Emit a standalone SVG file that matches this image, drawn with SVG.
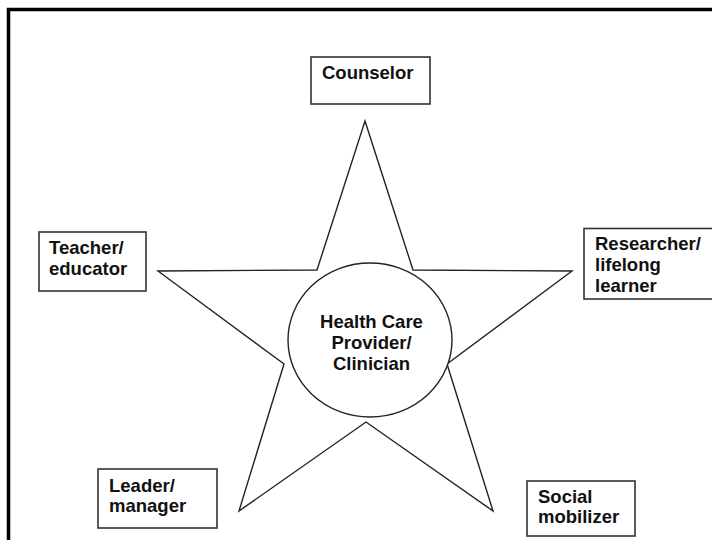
<svg xmlns="http://www.w3.org/2000/svg" width="712" height="540" viewBox="0 0 712 540">
<style>
.frame{fill:none;stroke:#000;stroke-width:3.5}
.box{fill:#fff;stroke:#333;stroke-width:1.6}
.star{fill:#fff;stroke:#222;stroke-width:1.4;stroke-linejoin:miter}
.lbl{font-family:"Liberation Sans",Arial,sans-serif;font-weight:bold;font-size:18.5px;fill:#111}
.mid{text-anchor:middle}
</style>
<rect width="712" height="540" fill="#fff"/>
<rect class="frame" x="8.5" y="9.5" width="720" height="545"/>
<g id="connectors">
<polygon id="star" class="star" points="365,121 413,270 572,271 447,364 493,511 366,422 239,511 284,364 158,271 317,270"/>
</g>
<g id="center">
<ellipse class="star" cx="370" cy="340" rx="82" ry="77"/>
<text class="lbl mid" x="371.5" y="328">Health Care</text>
<text class="lbl mid" x="371.5" y="349">Provider/</text>
<text class="lbl mid" x="371.5" y="370">Clinician</text>
</g>
<g id="counselor">
<rect class="box" x="311" y="57" width="119" height="47"/>
<text class="lbl" x="322" y="79">Counselor</text>
</g>
<g id="teacher">
<rect class="box" x="39" y="232" width="107" height="59"/>
<text class="lbl" x="49" y="254">Teacher/</text>
<text class="lbl" x="49" y="274.5">educator</text>
</g>
<g id="researcher">
<rect class="box" x="584" y="228.5" width="140" height="70.5"/>
<text class="lbl" x="595" y="250">Researcher/</text>
<text class="lbl" x="595" y="270.5">lifelong</text>
<text class="lbl" x="595" y="291.5">learner</text>
</g>
<g id="leader">
<rect class="box" x="98" y="469" width="119" height="59"/>
<text class="lbl" x="109" y="491.5">Leader/</text>
<text class="lbl" x="109" y="511.5">manager</text>
</g>
<g id="social">
<rect class="box" x="527" y="481" width="108" height="55"/>
<text class="lbl" x="538" y="503">Social</text>
<text class="lbl" x="538" y="523">mobilizer</text>
</g>
</svg>
